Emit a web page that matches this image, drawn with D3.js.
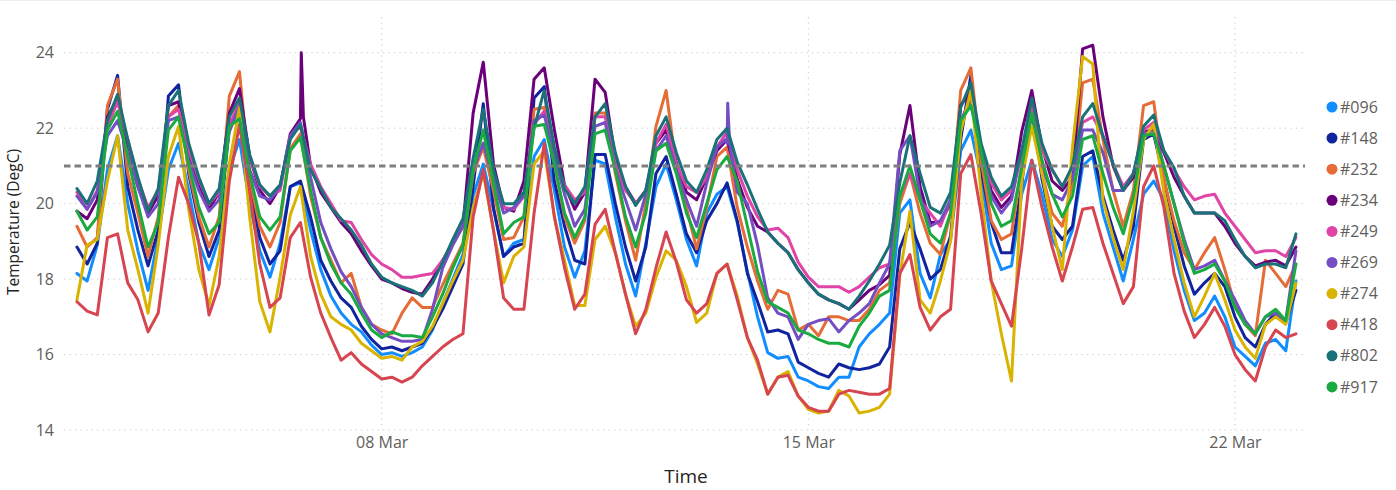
<!DOCTYPE html>
<html><head><meta charset="utf-8">
<script src="https://cdn.jsdelivr.net/npm/d3@7"></script>
<style>
body{margin:0;background:#fff;}
text{font-family:"Segoe UI","Open Sans","Noto Sans",sans-serif;}
</style>
</head><body>
<svg id="chart" width="1396" height="490"></svg>
<script>
// ---------- data ----------
const seriesNames  = ["#096","#148","#232","#234","#249","#269","#274","#418","#802","#917"];
const seriesColors = ["#118DFF","#12239E","#E66C37","#6B007B","#E044A7","#744EC2","#D9B300","#D64550","#197278","#1AAB40"];
const startTime = "2025-03-03T00:00:00Z";   // first reading
const stepHours = 4;                          // one reading every 4 hours

const s096 = [18.15,17.95,18.9,20.9,21.8,20.0, 18.75,17.7,19.1,20.9,21.6,20.35, 18.95,18.25,19.1,20.9,21.7,20.0, 18.75,18.05,18.95,20.45,20.55,19.3, 18.25,17.55,17.1,16.8,16.6,16.25, 16.0,16.05,15.95,16.05,16.2,16.65, 17.35,18.0,18.65,20.2,21.05,19.85, 18.6,18.95,19.05,21.25,21.7,20.35, 18.85,18.05,18.75,21.15,21.05,19.65, 18.4,17.55,18.95,20.45,21.05,20.1, 19.05,18.35,19.75,20.25,20.45,19.5, 18.2,17.0,16.05,15.9,15.95,15.4, 15.3,15.15,15.1,15.4,15.4,16.2, 16.55,16.8,17.1,19.75,20.1,18.15, 17.5,18.65,19.05,21.4,21.95,20.7, 18.95,18.25,18.35,20.25,21.15,20.25, 19.05,18.6,19.3,21.0,21.25,19.75, 18.85,17.95,19.05,20.25,20.6,20.1, 18.75,17.7,16.9,17.1,17.55,17.0, 16.2,15.95,15.7,16.3,16.4,16.1, 17.95];
const s148 = [18.85,18.4,18.95,22.5,23.4,20.45, 19.3,18.35,19.3,22.85,23.15,20.8, 19.5,18.6,19.3,22.05,22.6,20.45, 19.1,18.4,18.75,20.45,20.6,19.65, 18.5,17.95,17.5,17.25,16.75,16.4, 16.15,16.2,16.1,16.2,16.3,16.7, 17.2,17.8,18.4,20.45,22.65,19.9, 18.6,18.85,18.95,22.8,23.1,20.6, 19.4,18.5,18.4,21.3,21.3,20.0, 18.85,17.95,18.85,20.8,21.25,20.25, 19.2,18.7,19.55,20.0,20.55,19.55, 18.15,17.4,16.6,16.65,16.55,15.8, 15.65,15.5,15.4,15.75,15.65,15.6, 15.65,15.75,16.2,18.8,19.5,18.8, 18.0,18.25,19.15,21.7,23.4,20.9, 19.5,18.7,18.7,20.5,22.7,20.65, 19.4,19.05,19.4,21.25,21.4,20.2, 19.3,18.5,19.4,21.7,21.85,20.65, 19.4,18.35,17.6,17.9,18.15,17.8, 17.0,16.45,16.2,16.8,17.1,16.85, 17.7];
const s232 = [19.4,18.85,19.1,22.6,23.3,20.8, 19.75,18.6,19.65,22.3,22.6,20.9, 19.65,18.85,19.65,22.85,23.5,20.65, 19.4,18.85,19.5,21.45,21.85,20.2, 19.1,18.5,17.9,18.15,17.25,16.8, 16.65,16.55,17.1,17.5,17.25,17.25, 17.85,18.4,18.95,20.8,21.5,20.35, 19.05,19.1,19.65,22.5,22.55,21.05, 19.65,18.95,19.55,22.4,22.4,20.8, 19.55,18.5,20.0,22.05,23.0,20.95, 19.9,18.8,19.9,21.25,21.5,19.9, 18.85,17.95,17.2,17.7,17.6,16.65, 16.8,16.5,17.0,17.0,16.9,16.9, 17.2,17.7,17.9,20.0,20.8,19.75, 18.95,18.65,19.75,23.0,23.6,21.15, 19.55,19.05,19.2,21.05,22.6,20.8, 19.75,19.4,20.55,23.2,23.3,21.7, 20.35,19.4,20.35,22.6,22.7,20.65, 19.55,18.7,18.25,18.7,19.1,18.25, 17.3,16.8,16.5,18.5,18.15,17.8, 18.4];
const s234 = [19.8,19.6,20.1,22.3,22.8,21.4, 20.45,19.75,20.2,22.6,22.7,21.25, 20.45,19.85,20.3,22.4,23.05,21.25, 20.35,20.0,20.45,21.85,22.25,21.0, 20.3,19.9,19.5,19.2,18.75,18.35, 18.0,17.9,17.75,17.65,17.6,18.0, 18.5,18.95,19.4,22.4,23.75,21.05, 19.9,19.8,20.6,23.3,23.6,21.95, 20.5,19.85,20.3,23.3,22.95,21.2, 20.45,20.0,20.35,21.6,21.95,21.1, 20.3,20.1,20.7,21.4,21.7,20.65, 19.9,19.4,19.25,18.95,18.7,18.25, 17.9,17.6,17.45,17.35,17.2,17.45, 17.7,17.85,18.1,21.3,22.6,20.45, 19.5,19.5,20.0,22.6,23.0,21.4, 20.35,19.9,20.2,21.9,23.0,21.5, 20.6,20.35,20.7,24.1,24.2,22.3, 21.0,20.35,20.7,21.9,21.95,21.35, 20.7,20.2,19.75,19.75,19.75,19.4, 18.95,18.6,18.35,18.45,18.5,18.35, 18.85];
const s249 = [20.3,19.85,20.35,22.05,22.7,21.7, 20.65,19.9,20.35,22.3,22.5,21.4, 20.65,20.0,20.3,22.1,22.65,21.25, 20.45,20.2,20.35,21.8,22.05,21.05, 20.45,20.0,19.55,19.5,19.05,18.65, 18.4,18.25,18.05,18.05,18.1,18.15, 18.5,18.95,19.4,20.9,21.6,20.8, 19.9,19.85,20.2,22.1,22.45,21.25, 20.5,20.1,20.3,22.3,22.3,21.05, 20.35,20.0,20.3,21.6,22.1,21.05, 20.45,20.3,20.7,21.5,21.9,20.9, 20.2,19.65,19.3,19.35,19.1,18.45, 18.05,17.8,17.8,17.8,17.65,17.8, 18.05,18.3,18.4,20.2,20.8,20.1, 19.75,19.4,20.1,22.2,22.75,21.35, 20.55,20.1,20.35,21.35,22.5,21.4, 20.9,20.45,20.95,22.15,22.3,21.8, 21.05,20.45,20.8,21.95,22.15,21.4, 20.9,20.45,20.1,20.2,20.25,19.75, 19.4,19.05,18.7,18.75,18.75,18.6, 19.1];
const s269 = [20.2,19.85,20.3,21.8,22.2,21.35, 20.45,19.65,20.0,22.2,22.3,21.15, 20.35,19.8,20.1,21.9,22.6,20.9, 20.2,20.1,20.45,21.8,22.15,20.7, 19.5,18.8,18.2,17.8,17.25,16.8, 16.55,16.45,16.35,16.35,16.4,17.2, 18.3,18.9,19.4,20.9,21.6,20.65, 19.75,19.9,20.2,22.2,22.35,21.25, 20.25,19.4,19.85,22.05,22.15,20.9, 20.1,19.3,20.25,21.4,21.8,20.9, 20.1,19.4,20.55,21.5,21.6,20.3, 20.0,18.9,17.5,17.1,17.0,16.4, 16.8,16.9,16.95,16.6,16.9,17.1, 17.35,17.9,18.4,21.4,21.8,20.2, 19.4,19.55,20.1,22.2,22.75,21.35, 20.2,19.75,20.1,21.4,22.3,21.0, 20.25,20.1,20.65,21.95,21.95,21.35, 20.35,20.35,20.8,21.85,21.95,21.0, 20.0,19.05,18.25,18.35,18.5,17.95, 17.45,16.9,16.55,17.0,17.1,16.9, 18.75];
const s274 = [17.45,18.9,19.05,20.6,21.8,19.3, 18.25,17.1,18.9,21.25,22.05,19.85, 18.25,17.3,18.6,21.05,22.55,19.65, 17.4,16.6,18.05,19.7,20.45,18.6, 17.6,17.0,16.8,16.65,16.3,16.1, 15.9,15.95,15.85,16.2,16.35,16.75, 17.35,17.95,18.5,19.9,20.8,19.3, 17.9,18.6,18.85,21.05,21.4,19.65, 18.5,17.3,17.3,19.05,19.4,18.7, 17.6,16.75,17.1,18.05,18.75,18.5, 17.8,16.85,17.1,18.15,18.4,17.55, 16.45,15.75,14.95,15.4,15.55,14.9, 14.55,14.45,14.5,15.05,14.9,14.45, 14.5,14.6,14.95,18.1,19.8,17.45, 17.1,17.95,19.0,21.9,23.0,20.3, 17.95,16.55,15.3,20.6,22.05,20.8, 19.4,18.25,21.5,23.9,23.7,20.1, 19.1,18.25,19.8,21.7,22.1,20.3, 19.05,17.9,17.0,17.55,18.15,17.45, 16.65,16.2,15.9,16.8,17.0,16.8, 17.9];
const s418 = [17.4,17.15,17.05,19.1,19.2,17.9, 17.45,16.6,17.1,19.1,20.7,20.0, 18.95,17.05,17.85,20.6,22.1,20.35, 18.4,17.25,17.5,19.1,19.5,18.05, 17.1,16.45,15.85,16.05,15.75,15.55, 15.35,15.4,15.27,15.4,15.7,15.95, 16.2,16.4,16.55,19.65,20.9,19.3, 17.5,17.2,17.2,19.75,21.6,19.65, 18.3,17.2,17.6,19.45,19.85,18.7, 17.6,16.55,17.2,18.3,19.25,18.45, 17.45,17.1,17.35,18.15,18.4,17.45, 16.45,15.85,14.95,15.4,15.45,14.9, 14.6,14.5,14.5,14.95,15.05,15.0, 14.95,14.95,15.1,18.15,18.65,17.25, 16.65,17.0,17.2,20.8,21.3,19.75, 17.95,17.35,16.75,18.8,21.15,19.9, 18.85,17.95,18.85,19.85,19.9,18.95, 18.15,17.35,17.8,20.45,21.0,19.9, 18.15,17.15,16.45,16.8,17.25,16.75, 16.0,15.6,15.3,16.2,16.65,16.45, 16.55];
const s802 = [20.4,20.0,20.6,22.2,22.9,21.7, 20.7,19.8,20.4,22.6,23.0,21.6, 20.7,20.0,20.4,22.3,22.8,21.3, 20.5,20.2,20.5,21.7,22.1,20.9, 20.4,19.9,19.6,19.3,18.9,18.4, 18.05,17.9,17.8,17.7,17.55,17.9, 18.45,19.05,19.6,21.2,22.5,20.9, 20.0,20.0,20.3,22.0,23.0,21.5, 20.4,20.0,20.45,22.3,22.65,21.35, 20.45,19.95,20.35,21.8,22.3,21.35, 20.6,20.3,20.9,21.7,22.0,21.1, 20.5,19.85,19.25,18.95,18.7,18.25, 17.9,17.6,17.45,17.35,17.2,17.55, 17.95,18.4,18.9,20.55,21.8,20.8, 19.9,19.75,20.3,22.55,23.2,21.6, 20.7,20.2,20.45,21.4,22.8,21.6, 20.9,20.45,21.0,22.3,22.65,21.8, 21.05,20.35,20.8,22.05,22.35,21.4, 20.95,20.2,19.75,19.75,19.75,19.55, 19.05,18.6,18.3,18.4,18.4,18.3, 19.2];
const s917 = [19.8,19.3,19.65,21.95,22.45,21.25, 20.0,18.85,19.5,21.95,22.3,21.05, 19.9,19.2,19.5,22.05,22.25,20.8, 19.65,19.3,19.65,21.4,21.75,20.35, 19.1,18.4,17.9,17.6,17.1,16.65, 16.45,16.6,16.5,16.5,16.45,17.0, 17.6,18.3,18.9,20.9,21.95,20.55, 19.2,19.5,19.65,22.05,22.1,21.05, 19.75,19.1,19.65,21.85,21.95,20.9, 19.65,18.85,19.75,21.4,21.6,20.8, 19.75,19.1,20.0,20.9,21.25,20.6, 19.4,18.2,17.4,17.25,17.1,16.65, 16.55,16.4,16.3,16.3,16.2,16.75, 17.1,17.55,17.7,20.2,21.0,20.1, 19.2,18.95,19.75,22.2,22.6,21.4, 20.0,19.4,19.55,20.95,22.4,21.15, 20.25,19.65,20.2,21.7,21.8,20.8, 19.9,19.2,20.2,21.8,21.85,21.0, 20.0,18.95,18.15,18.25,18.4,17.95, 17.25,16.8,16.55,17.0,17.2,16.9, 18.4];

// short spikes read between the regular readings
const spikes234 = [["2025-03-06T15:30:00Z",22.2],["2025-03-06T16:20:00Z",24.0],["2025-03-06T17:10:00Z",22.3]];
const spikes269 = [["2025-03-13T15:30:00Z",21.7],["2025-03-13T16:15:00Z",22.66],["2025-03-13T17:00:00Z",21.6]];

const yTicks = [14,16,18,20,22,24];
const xTickDates  = ["2025-03-08T00:00:00Z","2025-03-15T00:00:00Z","2025-03-22T00:00:00Z"];
const xTickLabels = ["08 Mar","15 Mar","22 Mar"];
const threshold = 21;
const xTitle = "Time";
const yTitle = "Temperature (DegC)";

// ---------- build ----------
const seriesValues = [s096,s148,s232,s234,s249,s269,s274,s418,s802,s917];
const extraPoints = {"#234": spikes234, "#269": spikes269};
const t0 = new Date(startTime).getTime();
const series = seriesNames.map((name, k) => {
  let pts = seriesValues[k].map((v, i) => ({t: new Date(t0 + i * stepHours * 3600e3), v}));
  if (extraPoints[name]) {
    pts = pts.concat(extraPoints[name].map(([t, v]) => ({t: new Date(t), v})));
    pts.sort((a, b) => a.t - b.t);
  }
  return {name, color: seriesColors[k], pts};
});

const svg = d3.select("#chart");
const x = d3.scaleUtc()
  .domain([new Date("2025-03-02T18:54:00Z"), new Date("2025-03-23T03:34:00Z")])
  .range([64, 1305]);
const y = d3.scaleLinear().domain([14, 25]).range([430, 15]);

// faint top border
svg.append("line").attr("x1",0).attr("x2",1396).attr("y1",0.5).attr("y2",0.5)
  .attr("stroke","#ececec").attr("stroke-width",1);

// horizontal grid
svg.append("g").selectAll("line").data(yTicks).join("line")
  .attr("x1", 64).attr("x2", 1305)
  .attr("y1", d => y(d)).attr("y2", d => y(d))
  .attr("stroke", "#c8c6c4").attr("stroke-width", 1).attr("stroke-dasharray", "1.2,4.3");
// vertical grid
const xDates = xTickDates.map(d => new Date(d));
svg.append("g").selectAll("line").data(xDates).join("line")
  .attr("x1", d => x(d)).attr("x2", d => x(d))
  .attr("y1", 17).attr("y2", 430)
  .attr("stroke", "#c8c6c4").attr("stroke-width", 1).attr("stroke-dasharray", "1.2,4.3");

// y axis labels
const yAxis = d3.axisLeft(y).tickValues(yTicks).tickSize(0).tickPadding(0).tickFormat(d3.format("d"));
const gya = svg.append("g").attr("transform", "translate(54,0)").call(yAxis);
gya.select(".domain").remove();
gya.selectAll("text").attr("fill", "#605E5C").style("font-size", "16px")
  .style("font-family", '"Segoe UI","Open Sans",sans-serif');

// x axis labels
const xAxis = d3.axisBottom(x).tickValues(xDates).tickSize(0).tickPadding(0)
  .tickFormat((d, i) => xTickLabels[i]);
const gxa = svg.append("g").attr("transform", "translate(0,437)").call(xAxis);
gxa.select(".domain").remove();
gxa.selectAll("text").attr("fill", "#605E5C").style("font-size", "16px")
  .style("font-family", '"Segoe UI","Open Sans",sans-serif');

// titles
svg.append("text").attr("x", 686).attr("y", 483).attr("text-anchor", "middle")
  .attr("fill", "#252423").style("font-size", "19px").text(xTitle);
svg.append("text").attr("transform", "translate(19,222) rotate(-90)").attr("text-anchor", "middle")
  .attr("fill", "#252423").style("font-size", "15.5px").text(yTitle);

// lines
const line = d3.line().x(d => x(d.t)).y(d => y(d.v)).curve(d3.curveLinear);
svg.append("g").selectAll("path").data(series).join("path")
  .attr("d", d => line(d.pts))
  .attr("fill", "none").attr("stroke", d => d.color)
  .attr("stroke-width", 3).attr("stroke-linejoin", "round").attr("stroke-linecap", "round");

// threshold
svg.append("line").attr("x1", 64).attr("x2", 1305)
  .attr("y1", y(threshold)).attr("y2", y(threshold))
  .attr("stroke", "#7f7f7f").attr("stroke-width", 3).attr("stroke-dasharray", "6.5,4");

// legend
const lg = svg.append("g").selectAll("g").data(series).join("g")
  .attr("transform", (d, i) => `translate(1332,${107 + i * 31.1})`);
lg.append("circle").attr("r", 5.5).attr("fill", d => d.color);
lg.append("text").attr("x", 8).attr("dy", "0.35em").attr("fill", "#605E5C")
  .style("font-size", "16px").text(d => d.name);
</script>
</body></html>
